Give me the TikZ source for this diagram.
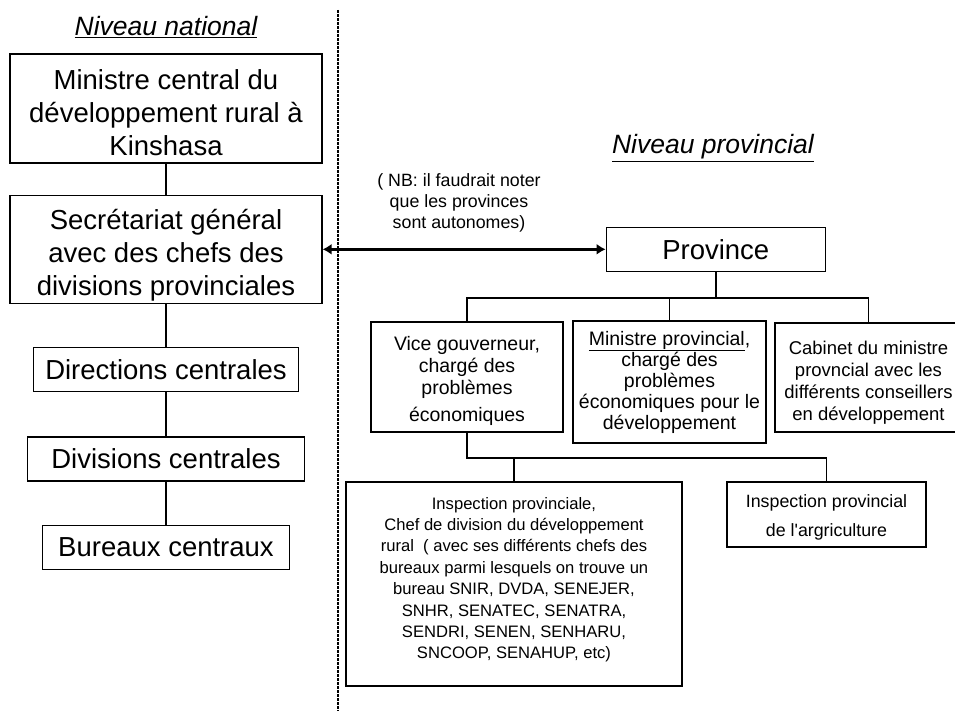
\documentclass[tikz,border=0pt]{standalone}
\usepackage{fontspec}
\setmainfont{Liberation Sans}
\usetikzlibrary{positioning,arrows.meta}

\newcommand{\bigtxt}{\fontsize{27.5}{33}\selectfont}
\newcommand{\boxtxt}{\fontsize{19.5}{21}\selectfont}
\newcommand{\notetxt}{\fontsize{17.8}{21.2}\selectfont}
\newcommand{\insptxt}{\fontsize{16.6}{21.4}\selectfont}
\newcommand{\topgap}[1]{\rule{0pt}{#1}}

\begin{document}
\begin{tikzpicture}[
  x=1pt, y=-1pt,
  box/.style={rectangle, draw, line width=1.3pt, inner sep=3pt, align=center, font=\boxtxt},
  bigbox/.style={box, inner sep=1.5pt, font=\bigtxt},
  title/.style={font=\fontsize{26.5}{30}\selectfont\itshape, anchor=base},
  link/.style={line width=1.1pt},
  tree/.style={line width=1.8pt},
  biarrow/.style={<->, >={Latex[length=9pt,width=11pt]}, line width=2.6pt},
  divider/.style={line width=1.6pt, dash pattern=on 3pt off 1pt}
]
  \clip (0,0) rectangle (955,711);
  \coordinate (divtop) at (338,10);
  \coordinate (divbot) at (338,711);
  \draw[divider] (divtop) -- (divbot);

  % niveau national
  \node[title] (natl) at (166,36) {\underline{Niveau national}};
  \node[bigbox, minimum width=312, minimum height=109] (mincen) at (166,108.5) {\topgap{28pt}Ministre central du\\développement rural à\\Kinshasa};
  \node[bigbox, minimum width=312, minimum height=108, below=31pt of mincen] (secr) {\topgap{32pt}Secrétariat général\\avec des chefs des\\divisions provinciales};
  \node[bigbox, minimum width=265, minimum height=44, below=43pt of secr] (dirc) {Directions centrales};
  \node[bigbox, minimum width=277, minimum height=44, below=44pt of dirc] (divc) {Divisions centrales};
  \node[bigbox, minimum width=247, minimum height=44, below=43pt of divc] (burc) {Bureaux centraux};

  % niveau provincial
  \node[title] (prvl) at (713,154) {\underline{Niveau provincial}};
  \node[font=\notetxt, align=center] (nbnote) at (459,203) {( NB: il faudrait noter\\que les provinces\\sont autonomes)};
  \node[bigbox, minimum width=219, minimum height=44, right=283pt of secr] (prov) {Province};
  \node[box, minimum width=192, minimum height=110] (vice) at (467,377) {\topgap{23pt}Vice gouverneur,\\[1pt]chargé des\\[1pt]problèmes\\[6pt]économiques};
  \node[box, minimum width=193, minimum height=122] (minprov) at (669.5,382) {\underline{Ministre provincial},\\chargé des\\problèmes\\économiques pour le\\développement};
  \node[box, font=\fontsize{18.5}{22}\selectfont, minimum width=187, minimum height=109] (cab) at (868.5,377.5) {\topgap{24.5pt}Cabinet du ministre\\provncial avec les\\différents conseillers\\en développement};
  \node[box, font=\insptxt, inner sep=0pt, minimum width=336, minimum height=204] (insp) at (514,584) {\parbox[c][190pt][t]{330pt}{\vspace*{8pt}\centering Inspection provinciale,\\Chef de division du développement\\rural~~( avec ses différents chefs des\\bureaux parmi lesquels on trouve un\\bureau SNIR, DVDA, SENEJER,\\SNHR, SENATEC, SENATRA,\\SENDRI, SENEN, SENHARU,\\SNCOOP, SENAHUP, etc)}};
  \node[box, font=\notetxt, minimum width=199, minimum height=65] (agr) at (826.5,514.5) {\topgap{19pt}Inspection provincial\\[7.5pt]de l\textquotesingle argriculture};

  \draw[link] (mincen) -- (secr);
  \draw[link] (secr) -- (dirc);
  \draw[link] (dirc) -- (divc);
  \draw[link] (divc) -- (burc);
  \draw[biarrow] (secr.east) -- (prov.west);
  \draw[tree] (prov.south) -- ++(0,26) -| (vice.north);
  \draw[tree] (prov.south) -- ++(0,26) -| (minprov.north);
  \draw[tree] (prov.south) -- ++(0,26) -| (cab.north);
  \draw[tree] (vice.south) -- ++(0,25) -| (insp.north);
  \draw[tree] (vice.south) -- ++(0,25) -| (agr.north);
\end{tikzpicture}
\end{document}
